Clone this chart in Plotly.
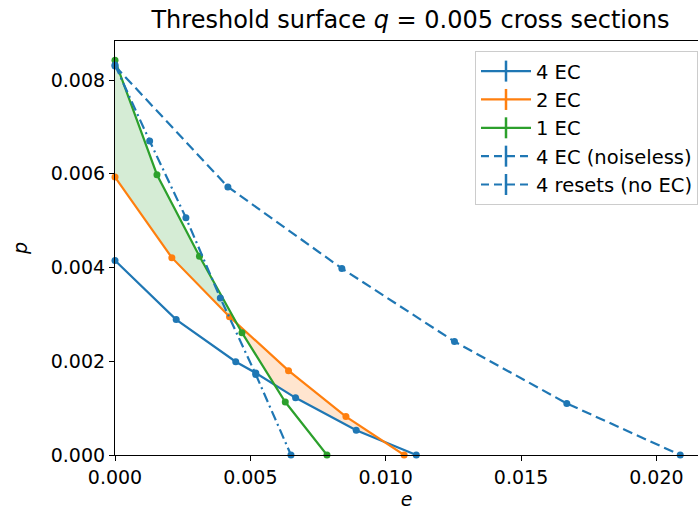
import numpy as np
import plotly.graph_objects as go

# Cross sections of the threshold surface at q = 0.005 (e on x, p on y)
e_4ec = [0.0, 0.00226, 0.00446, 0.00520, 0.00667, 0.00891, 0.01113]
p_4ec = [0.00415, 0.00289, 0.00199, 0.00175, 0.00122, 0.00053, 0.0]

e_2ec = [0.0, 0.00210, 0.00423, 0.00641, 0.00853, 0.01068]
p_2ec = [0.00593, 0.00421, 0.00295, 0.00180, 0.00082, 0.0]

e_1ec = [0.0, 0.00155, 0.00312, 0.00469, 0.00629, 0.00783]
p_1ec = [0.00842, 0.00598, 0.00424, 0.00261, 0.00113, 0.0]

e_noiseless = [0.0, 0.00128, 0.00262, 0.00389, 0.00520, 0.00650]
p_noiseless = [0.00832, 0.00670, 0.00506, 0.00335, 0.00172, 0.0]

e_resets = [0.0, 0.00417, 0.00838, 0.01254, 0.01669, 0.02088]
p_resets = [0.00830, 0.00572, 0.00398, 0.00242, 0.00110, 0.0]

C0, C1, C2 = "#1f77b4", "#ff7f0e", "#2ca02c"
FONT = "DejaVu Sans"
LW = 2.2

fig = go.Figure()

# Shaded regions: where one code is best, fill between it and the next best
grid = np.linspace(0.0, 0.0112, 3000)
g4 = np.interp(grid, e_4ec, p_4ec, right=0.0)
g2 = np.interp(grid, e_2ec, p_2ec, right=0.0)
g1 = np.interp(grid, e_1ec, p_1ec, right=0.0)


def region(top, other):
    mask = top >= other
    upper = np.where(mask, top, other)
    xs = np.concatenate([grid, grid[::-1]])
    ys = np.concatenate([upper, other[::-1]])
    return xs, ys


xg, yg = region(g1, np.maximum(g2, g4))
fig.add_trace(go.Scatter(x=xg, y=yg, fill="toself", fillcolor="rgba(44,160,44,0.2)",
                         line=dict(width=0), mode="lines", showlegend=False, hoverinfo="skip"))
xo, yo = region(g2, np.maximum(g1, g4))
fig.add_trace(go.Scatter(x=xo, y=yo, fill="toself", fillcolor="rgba(255,127,14,0.2)",
                         line=dict(width=0), mode="lines", showlegend=False, hoverinfo="skip"))

series = [
    ("4 EC", e_4ec, p_4ec, C0, "solid"),
    ("2 EC", e_2ec, p_2ec, C1, "solid"),
    ("1 EC", e_1ec, p_1ec, C2, "solid"),
    ("4 EC (noiseless)", e_noiseless, p_noiseless, C0, "10px,4px,2px,4px"),
    ("4 resets (no EC)", e_resets, p_resets, C0, "10px,5px"),
]

for name, ex, py, col, dash in series:
    fig.add_trace(go.Scatter(
        x=ex, y=py, mode="lines+markers", name=name, showlegend=False,
        line=dict(color=col, width=LW, dash=dash),
        marker=dict(color=col, size=7, symbol="circle"),
        cliponaxis=False,
    ))

# Legend entries drawn as errorbar-style glyphs
for name, ex, py, col, dash in series:
    legdash = "solid" if dash == "solid" else "8px,5px"
    fig.add_trace(go.Scatter(
        x=[None], y=[None], mode="lines+markers", name=name,
        line=dict(color=col, width=LW, dash=legdash),
        marker=dict(color=col, size=15, symbol="line-ns-open",
                     line=dict(color=col, width=2.5)),
    ))

axis_common = dict(
    showline=True, linecolor="black", linewidth=1.1,
    ticks="outside", ticklen=5, tickwidth=1.1, tickcolor="black",
    showgrid=False, zeroline=False,
    tickfont=dict(family=FONT, size=19, color="black"),
)

fig.update_layout(
    width=698, height=515,
    margin=dict(l=115, r=0, t=41, b=60),
    paper_bgcolor="white", plot_bgcolor="white",
    font=dict(family=FONT, color="black"),
    title=dict(text="Threshold surface <i>q</i> = 0.005 cross sections",
               font=dict(family=FONT, size=24, color="black"),
               x=0.588, xanchor="center", xref="container",
               y=0.962, yanchor="middle", yref="container"),
    xaxis=dict(range=[0, 0.021536], tickvals=[0, 0.005, 0.010, 0.015, 0.020],
               ticktext=["0.000", "0.005", "0.010", "0.015", "0.020"],
               mirror=True,
               title=dict(text="<i>e</i>", font=dict(family=FONT, size=19), standoff=3),
               **axis_common),
    yaxis=dict(range=[0, 0.008832], tickvals=[0, 0.002, 0.004, 0.006, 0.008],
               ticktext=["0.000", "0.002", "0.004", "0.006", "0.008"],
               title=dict(text="<i>p</i>", font=dict(family=FONT, size=19), standoff=18),
               **axis_common),
    legend=dict(x=1.0, xanchor="right", y=0.976, yanchor="top",
                bgcolor="rgba(255,255,255,0.8)", bordercolor="#cccccc", borderwidth=1,
                font=dict(family=FONT, size=19.5, color="black"),
                itemwidth=50, tracegroupgap=0),
)

fig.write_html("out.html")
